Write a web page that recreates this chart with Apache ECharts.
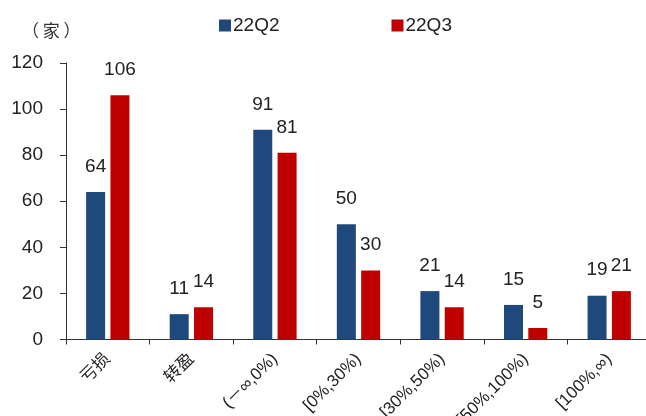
<!DOCTYPE html>
<html>
<head>
<meta charset="utf-8">
<script src="https://cdn.jsdelivr.net/npm/echarts@6/dist/echarts.min.js"></script>
<style>
html,body{margin:0;padding:0;background:#fff;}
#chart{width:646px;height:416px;}
</style>
</head>
<body>
<div id="chart"></div>
<script>
// Company counts by profit-change bucket
const categories = ['亏损', '转盈', '(－∞,0%)', '[0%,30%)', '[30%,50%)', '[50%,100%)', '[100%,∞)'];
const q2Values = [64, 11, 91, 50, 21, 15, 19];
const q3Values = [106, 14, 81, 30, 14, 5, 21];
const seriesNames = ['22Q2', '22Q3'];
const yTicks = { min: 0, max: 120, interval: 20 };

const FONT = '"Liberation Sans", "Noto Sans CJK SC", sans-serif';
const labelStyle = {
  show: true,
  position: 'top',
  distance: 16,
  color: '#222',
  fontSize: 19,
  fontFamily: FONT
};

const chart = echarts.init(document.getElementById('chart'));
chart.setOption({
  animation: false,
  backgroundColor: '#fff',
  grid: {
    left: 66, right: -5, top: 63, bottom: 76.5,
    containLabel: false,
    outerBoundsMode: 'none'
  },
  legend: {
    top: 11,
    left: 214,
    itemWidth: 12,
    itemHeight: 12,
    itemGap: 112,
    icon: 'rect',
    textStyle: { fontSize: 19, color: '#222', fontFamily: FONT, padding: [0, 0, 0, -3] },
    data: seriesNames
  },
  graphic: [{
    type: 'text',
    left: 22,
    top: 22,
    style: { text: '（ 家 ）', fontSize: 17, fontFamily: '"Noto Sans CJK SC", sans-serif', fill: '#333' }
  }],
  xAxis: {
    type: 'category',
    data: categories,
    axisLine: { lineStyle: { color: '#333', width: 1 } },
    axisTick: { show: true, length: 5, alignWithLabel: false, lineStyle: { color: '#333' } },
    axisLabel: {
      rotate: 45,
      margin: 17,
      fontSize: 17,
      color: '#222',
      fontFamily: FONT,
      interval: 0
    }
  },
  yAxis: {
    type: 'value',
    min: yTicks.min,
    max: yTicks.max,
    interval: yTicks.interval,
    axisLine: { show: true, lineStyle: { color: '#333', width: 1 } },
    axisTick: { show: true, length: 6, lineStyle: { color: '#333' } },
    splitLine: { show: false },
    axisLabel: { fontSize: 19, color: '#222', fontFamily: FONT, margin: 23 }
  },
  series: [
    {
      name: seriesNames[0],
      type: 'bar',
      data: q2Values,
      barWidth: 19,
      barGap: '28%',
      itemStyle: { color: '#1F497D' },
      label: labelStyle
    },
    {
      name: seriesNames[1],
      type: 'bar',
      data: q3Values,
      barWidth: 19,
      itemStyle: { color: '#C00000' },
      label: labelStyle
    }
  ]
});
</script>
</body>
</html>
